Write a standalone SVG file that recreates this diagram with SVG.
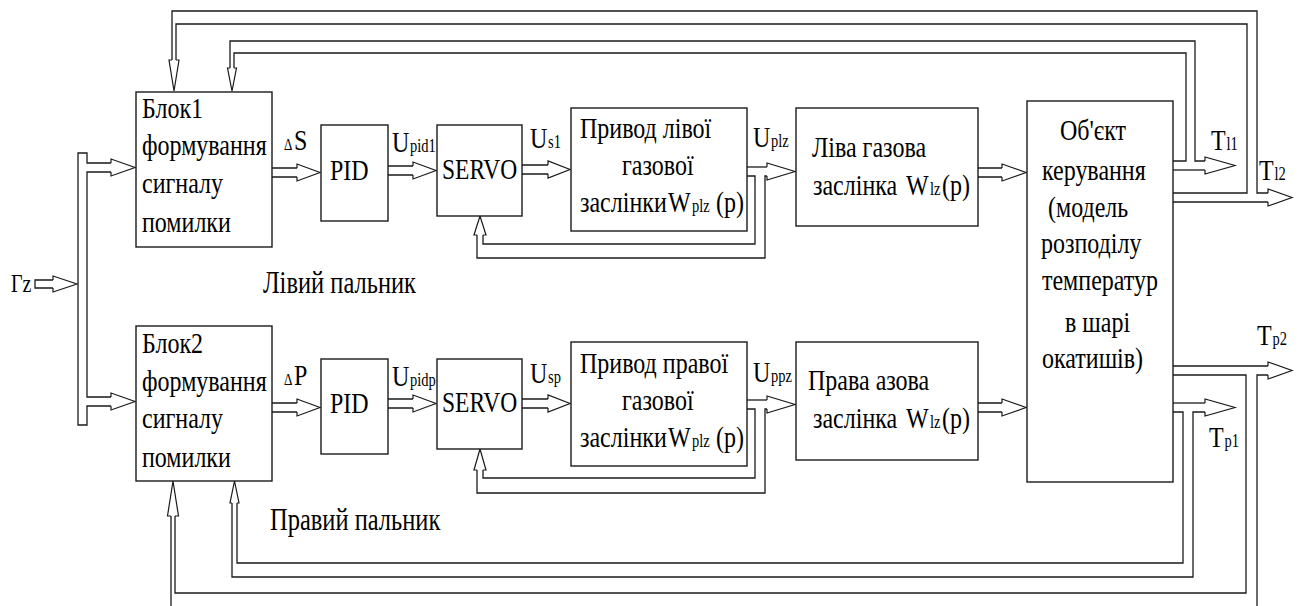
<svg xmlns="http://www.w3.org/2000/svg" width="1303" height="606" viewBox="0 0 1303 606">
<style>
.bx{fill:#fff;stroke:#1a1a1a;stroke-width:1.4}
.ln{fill:none;stroke:#1a1a1a;stroke-width:1.3}
.hd{fill:none;stroke:#1a1a1a;stroke-width:1.2}
.t{font-family:"Liberation Serif","Times New Roman",serif;font-size:24px;fill:#000}
.s{font-size:14.5px}
.d{font-size:13px}
.p{font-size:24.5px}
.v{font-size:23.5px}
</style>
<rect width="1303" height="606" fill="#fff"/>
<g id="connectors">
  <path class="ln" d="M53,280 H35 V288 H53"/>
  <path class="hd" d="M53,280 V276 L77,284 L53,292 V288"/>
  <path class="ln" d="M111,163 H87 V153 H78 V425 H87 V406 H111"/>
  <path class="ln" d="M111,172 H87 V397 H111"/>
  <path class="hd" d="M111,163 V159 L135,167.5 L111,176 V172"/>
  <path class="hd" d="M111,397 V393 L135,401.5 L111,410 V406"/>
  <path class="ln" d="M272,168 H297 M272,177 H297"/>
  <path class="hd" d="M297,168 V164 L320,172.5 L297,181 V177"/>
  <path class="ln" d="M388,166 H413 M388,175 H413"/>
  <path class="hd" d="M413,166 V162 L436,170.5 L413,179 V175"/>
  <path class="ln" d="M522,165 H548 M522,174 H548"/>
  <path class="hd" d="M548,165 V161 L570,169.5 L548,178 V174"/>
  <path class="ln" d="M747,167 H767"/>
  <path class="ln" d="M747,176 H755 V244 H483 V235"/>
  <path class="ln" d="M767,176 H765 V258 H477 V235"/>
  <path class="hd" d="M767,167 V163 L795,171.5 L767,180 V176"/>
  <path class="hd" d="M477,235 H474 L480,216 L486,235 H483"/>
  <path class="ln" d="M978,168 H1002 M978,177 H1002"/>
  <path class="hd" d="M1002,168 V164 L1026,172.5 L1002,181 V177"/>
  <path class="ln" d="M1173,161 H1186 V53 H234 V68"/>
  <path class="ln" d="M1205,161 H1195 V41 H230 V68"/>
  <path class="ln" d="M1173,170 H1205"/>
  <path class="hd" d="M1205,161 V157 L1235,165.5 L1205,174 V170"/>
  <path class="hd" d="M230,68 H227.5 L232,91 L236.5,68 H234"/>
  <path class="ln" d="M1173,193 H1247 V24 H176 V60"/>
  <path class="ln" d="M1268,193 H1257 V11 H172 V60"/>
  <path class="ln" d="M1173,202 H1268"/>
  <path class="hd" d="M1268,193 V189 L1292,197.5 L1268,206 V202"/>
  <path class="hd" d="M172,60 H169 L174,91 L179,60 H176"/>
  <path class="ln" d="M272,403 H297 M272,412 H297"/>
  <path class="hd" d="M297,403 V399 L320,407.5 L297,416 V412"/>
  <path class="ln" d="M388,399 H413 M388,408 H413"/>
  <path class="hd" d="M413,399 V395 L436,403.5 L413,412 V408"/>
  <path class="ln" d="M522,399 H548 M522,408 H548"/>
  <path class="hd" d="M548,399 V395 L570,403.5 L548,412 V408"/>
  <path class="ln" d="M747,400 H767"/>
  <path class="ln" d="M747,409 H755 V478 H483 V470"/>
  <path class="ln" d="M767,409 H765 V493 H477 V470"/>
  <path class="hd" d="M767,400 V396 L795,404.5 L767,413 V409"/>
  <path class="hd" d="M477,470 H474 L480,449 L486,470 H483"/>
  <path class="ln" d="M978,403 H1002 M978,412 H1002"/>
  <path class="hd" d="M1002,403 V399 L1026,407.5 L1002,416 V412"/>
  <path class="ln" d="M1173,366 H1268"/>
  <path class="ln" d="M1173,375 H1246 V593 H175 V516"/>
  <path class="ln" d="M1268,375 H1257 V606"/>
  <path class="ln" d="M171,606 V516"/>
  <path class="hd" d="M1268,366 V362 L1292,370.5 L1268,379 V375"/>
  <path class="hd" d="M171,516 H167.5 L173,481 L178.5,516 H175"/>
  <path class="ln" d="M1173,403 H1205"/>
  <path class="ln" d="M1173,412 H1183 V563 H237 V503"/>
  <path class="ln" d="M1205,412 H1193 V577 H232 V503"/>
  <path class="hd" d="M1205,403 V399 L1235,407.5 L1205,416 V412"/>
  <path class="hd" d="M232,503 H230 L234.5,481 L239,503 H237"/>
</g>
<g id="labels">
  <text class="t" x="11" y="292" style="font-size:20px" transform="matrix(1 0 0 1.25 0 -73)">Гz</text>
  <g transform="matrix(1 0 0 1.25 0 -37.5)">
    <text class="t d" x="284" y="150">Δ</text>
    <text class="t" x="294" y="150">S</text>
  </g>
  <g transform="matrix(1 0 0 1.25 0 -96.25)">
    <text class="t d" x="284" y="385">Δ</text>
    <text class="t" x="294" y="385">P</text>
  </g>
  <g transform="matrix(1 0 0 1.25 0 -38)">
    <text class="t" x="392" y="152">U</text>
    <text class="t s" x="410" y="152">pid1</text>
  </g>
  <g transform="matrix(1 0 0 1.25 0 -96.5)">
    <text class="t" x="392" y="386">U</text>
    <text class="t s" x="410" y="386">pidp</text>
  </g>
  <g transform="matrix(1 0 0 1.25 0 -37)">
    <text class="t" x="530" y="148">U</text>
    <text class="t s" x="548" y="148">s1</text>
  </g>
  <g transform="matrix(1 0 0 1.25 0 -95.75)">
    <text class="t" x="530" y="383">U</text>
    <text class="t s" x="548" y="383">sp</text>
  </g>
  <g transform="matrix(1 0 0 1.25 0 -36.75)">
    <text class="t" x="753" y="147">U</text>
    <text class="t s" x="771" y="147">plz</text>
  </g>
  <g transform="matrix(1 0 0 1.25 0 -95.5)">
    <text class="t" x="753" y="382">U</text>
    <text class="t s" x="771" y="382">ppz</text>
  </g>
  <g transform="matrix(1 0 0 1.25 0 -37.5)">
    <text class="t" x="1211" y="150">T</text>
    <text class="t s" x="1226.5" y="150">l1</text>
  </g>
  <g transform="matrix(1 0 0 1.25 0 -45)">
    <text class="t" x="1259" y="180">T</text>
    <text class="t s" x="1274.5" y="180">l2</text>
  </g>
  <g transform="matrix(1 0 0 1.25 0 -86.25)">
    <text class="t" x="1257" y="345">T</text>
    <text class="t s" x="1272.5" y="345">p2</text>
  </g>
  <g transform="matrix(1 0 0 1.25 0 -111.75)">
    <text class="t" x="1209" y="447">T</text>
    <text class="t s" x="1224.5" y="447">p1</text>
  </g>
  <text class="t p" x="263" y="293" transform="matrix(1 0 0 1.25 0 -73.25)">Лівий пальник</text>
  <text class="t p" x="270" y="530" transform="matrix(1 0 0 1.25 0 -132.5)">Правий пальник</text>
</g>
<g id="block1">
  <rect class="bx" x="136" y="92" width="136" height="155"/>
  <text class="t" x="142" y="118" transform="matrix(1 0 0 1.25 0 -29.5)">Блок1</text>
  <text class="t" x="142" y="155" transform="matrix(1 0 0 1.25 0 -38.75)">формування</text>
  <text class="t" x="142" y="193" transform="matrix(1 0 0 1.25 0 -48.25)">сигналу</text>
  <text class="t" x="142" y="232" transform="matrix(1 0 0 1.25 0 -58)">помилки</text>
</g>
<g id="pid1">
  <rect class="bx" x="321" y="125" width="67" height="96"/>
  <text class="t" x="330" y="180" transform="matrix(1 0 0 1.25 0 -45)">PID</text>
</g>
<g id="servo1">
  <rect class="bx" x="437" y="125" width="85" height="91"/>
  <text class="t v" x="442" y="179" transform="matrix(1 0 0 1.25 0 -44.75)">SERVO</text>
</g>
<g id="actuator1">
  <rect class="bx" x="571" y="108" width="176" height="123"/>
  <text class="t" x="580" y="138" transform="matrix(1 0 0 1.25 0 -34.5)">Привод лівої</text>
  <text class="t" x="622" y="175" transform="matrix(1 0 0 1.25 0 -43.75)">газової</text>
  <g transform="matrix(1 0 0 1.25 0 -53)">
    <text class="t" x="580" y="212">заслінки</text>
    <text class="t" x="668" y="212">W</text>
    <text class="t s" x="692" y="212">plz</text>
    <text class="t" x="716" y="212">(p)</text>
  </g>
</g>
<g id="valve1">
  <rect class="bx" x="796" y="108" width="182" height="118"/>
  <text class="t" x="812" y="157" transform="matrix(1 0 0 1.25 0 -39.25)">Ліва газова</text>
  <g transform="matrix(1 0 0 1.25 0 -48.75)">
    <text class="t" x="813" y="195">заслінка</text>
    <text class="t" x="906" y="195">W</text>
    <text class="t s" x="930" y="195">lz</text>
    <text class="t" x="942" y="195">(p)</text>
  </g>
</g>
<g id="object">
  <rect class="bx" x="1027" y="101" width="146" height="381"/>
  <text class="t" x="1060" y="140" transform="matrix(1 0 0 1.25 0 -35)">Об'єкт</text>
  <text class="t" x="1042" y="180" transform="matrix(1 0 0 1.25 0 -45)">керування</text>
  <text class="t" x="1048" y="217" transform="matrix(1 0 0 1.25 0 -54.25)">(модель</text>
  <text class="t" x="1041" y="253" transform="matrix(1 0 0 1.25 0 -63.25)">розподілу</text>
  <text class="t" x="1042" y="290" transform="matrix(1 0 0 1.25 0 -72.5)">температур</text>
  <text class="t" x="1065" y="332" transform="matrix(1 0 0 1.25 0 -83)">в шарі</text>
  <text class="t" x="1042" y="368" transform="matrix(1 0 0 1.25 0 -92)">окатишів)</text>
</g>
<g id="block2">
  <rect class="bx" x="136" y="326" width="136" height="155"/>
  <text class="t" x="142" y="353" transform="matrix(1 0 0 1.25 0 -88.25)">Блок2</text>
  <text class="t" x="142" y="391" transform="matrix(1 0 0 1.25 0 -97.75)">формування</text>
  <text class="t" x="142" y="428" transform="matrix(1 0 0 1.25 0 -107)">сигналу</text>
  <text class="t" x="142" y="467" transform="matrix(1 0 0 1.25 0 -116.75)">помилки</text>
</g>
<g id="pid2">
  <rect class="bx" x="321" y="359" width="67" height="95"/>
  <text class="t" x="330" y="413" transform="matrix(1 0 0 1.25 0 -103.25)">PID</text>
</g>
<g id="servo2">
  <rect class="bx" x="437" y="359" width="85" height="90"/>
  <text class="t v" x="442" y="412" transform="matrix(1 0 0 1.25 0 -103)">SERVO</text>
</g>
<g id="actuator2">
  <rect class="bx" x="571" y="342" width="176" height="124"/>
  <text class="t" x="580" y="373" transform="matrix(1 0 0 1.25 0 -93.25)">Привод правої</text>
  <text class="t" x="622" y="410" transform="matrix(1 0 0 1.25 0 -102.5)">газової</text>
  <g transform="matrix(1 0 0 1.25 0 -111.75)">
    <text class="t" x="580" y="447">заслінки</text>
    <text class="t" x="668" y="447">W</text>
    <text class="t s" x="692" y="447">plz</text>
    <text class="t" x="716" y="447">(p)</text>
  </g>
</g>
<g id="valve2">
  <rect class="bx" x="796" y="342" width="182" height="118"/>
  <text class="t" x="808" y="390" transform="matrix(1 0 0 1.25 0 -97.5)">Права азова</text>
  <g transform="matrix(1 0 0 1.25 0 -107)">
    <text class="t" x="813" y="428">заслінка</text>
    <text class="t" x="906" y="428">W</text>
    <text class="t s" x="930" y="428">lz</text>
    <text class="t" x="942" y="428">(p)</text>
  </g>
</g>
</svg>
